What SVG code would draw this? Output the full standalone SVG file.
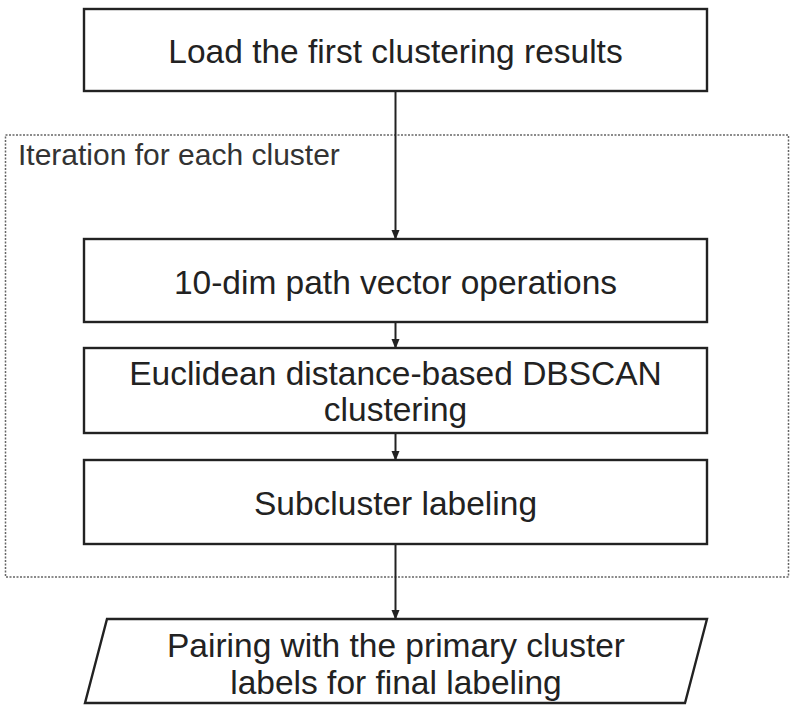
<svg xmlns="http://www.w3.org/2000/svg" width="800" height="719" viewBox="0 0 800 719">
<style>
.box{fill:#fff;stroke:#222;stroke-width:2.4}
.t{font-family:"Liberation Sans",Arial,sans-serif;font-size:33.5px;fill:#222;text-anchor:middle}
.lbl{font-family:"Liberation Sans",Arial,sans-serif;font-size:30px;fill:#333}
.con{stroke:#222;stroke-width:2;fill:none;marker-end:url(#ah)}
.grp{fill:none;stroke:#666;stroke-width:1.5;stroke-dasharray:2 1.5}
</style>
<defs>
<marker id="ah" markerWidth="10" markerHeight="10" refX="9" refY="5" orient="auto" markerUnits="userSpaceOnUse">
<path d="M0,1 L10,5 L0,9 Z" fill="#222"/>
</marker>
</defs>
<rect width="800" height="719" fill="#fff"/>
<g id="iteration-group">
<rect class="grp" x="5.5" y="135" width="783" height="442"/>
<text class="lbl" x="18" y="165">Iteration for each cluster</text>
</g>
<g id="connectors">
<line class="con" x1="395.5" y1="91" x2="395.5" y2="239"/>
<line class="con" x1="395.5" y1="322" x2="395.5" y2="348"/>
<line class="con" x1="395.5" y1="433" x2="395.5" y2="460"/>
<line class="con" x1="395.5" y1="544" x2="395.5" y2="619"/>
</g>
<g id="load">
<rect class="box" x="84" y="9" width="623" height="82"/>
<text class="t" x="395.5" y="63">Load the first clustering results</text>
</g>
<g id="vector-ops">
<rect class="box" x="84" y="239" width="623" height="83"/>
<text class="t" x="395.5" y="294">10-dim path vector operations</text>
</g>
<g id="dbscan">
<rect class="box" x="84" y="348" width="623" height="85"/>
<text class="t" x="395.5" y="385">Euclidean distance-based DBSCAN</text>
<text class="t" x="395.5" y="421">clustering</text>
</g>
<g id="subcluster">
<rect class="box" x="84" y="460" width="623" height="84"/>
<text class="t" x="395.5" y="515">Subcluster labeling</text>
</g>
<g id="pairing">
<polygon class="box" points="107,619 707,619 685,703 85,703"/>
<text class="t" x="396" y="657">Pairing with the primary cluster</text>
<text class="t" x="396" y="694">labels for final labeling</text>
</g>
</svg>
